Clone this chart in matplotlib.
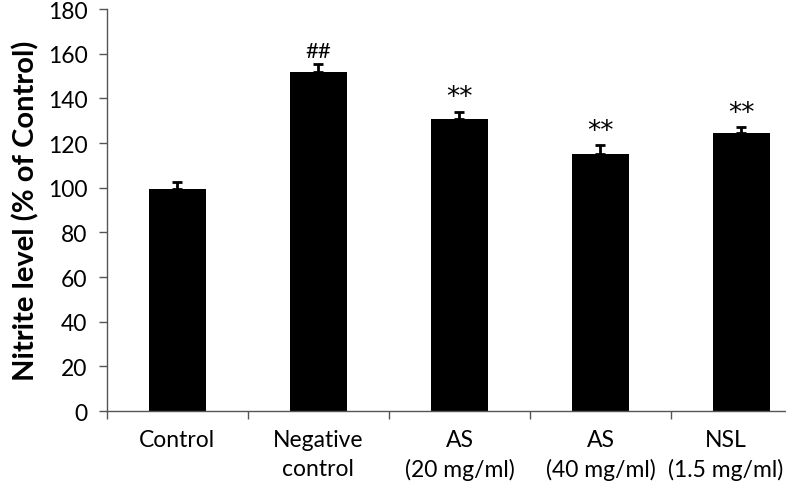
import matplotlib
matplotlib.use("Agg")
import matplotlib.pyplot as plt
import matplotlib.transforms as mtransforms
import numpy as np

# data
groups = ["Control", "Negative\ncontrol", "AS\n(20 mg/ml)", "AS\n(40 mg/ml)", "NSL\n(1.5 mg/ml)"]
nitrite = [99.5, 152.0, 131.0, 115.0, 124.5]
sem = [3.0, 3.5, 3.0, 4.0, 2.5]
marks = ["", "##", "**", "**", "**"]

plt.rcParams['font.family'] = ['Lato', 'DejaVu Sans']

fig = plt.figure(figsize=(7.86, 4.85), dpi=100)
ax = fig.add_axes([0.136, 0.1505, 0.863, 0.8285])

x = np.arange(len(groups))
ax.bar(x, nitrite, width=0.4, color="black", zorder=2)
ax.errorbar(x, nitrite, yerr=[np.zeros(len(sem)), sem], fmt="none",
            ecolor="black", elinewidth=2, capsize=3.3, capthick=2, zorder=3)

for xi, v, e, m in zip(x, nitrite, sem, marks):
    if m == "##":
        ax.text(xi, v + e + 1.5, m, ha="center", va="bottom", fontsize=16)
    elif m:
        ax.text(xi, v + e + 0.8, m, ha="center", va="bottom", fontsize=19,
                family=['DejaVu Sans'])

ax.set_xlim(-0.5, 4.31)
ax.set_ylim(0, 180)
ax.set_yticks(np.arange(0, 181, 20))
ax.set_xticks(x)
ax.set_xticklabels(groups, fontsize=16.5, linespacing=1.45)
ax.set_xticks(np.arange(-0.5, 4.5, 1), minor=True)
ax.tick_params(axis="x", which="major", length=0, pad=13)
ax.tick_params(axis="x", which="minor", length=6, width=1, color="#555555")
ax.tick_params(axis="y", length=6, width=1, color="#555555", labelsize=16.5, pad=8)

# last label is pushed left so it fits inside the picture, as in the original
last = ax.get_xticklabels()[-1]
last.set_transform(last.get_transform() +
                   mtransforms.ScaledTranslation(-16 / 100, 0, fig.dpi_scale_trans))

ax.set_ylabel("Nitrite level (% of Control)", fontsize=21, fontweight="bold", labelpad=6)

for s in ["top", "right"]:
    ax.spines[s].set_visible(False)
for s in ["left", "bottom"]:
    ax.spines[s].set_color("#555555")
    ax.spines[s].set_linewidth(1)

fig.savefig("out.png", dpi=100)
